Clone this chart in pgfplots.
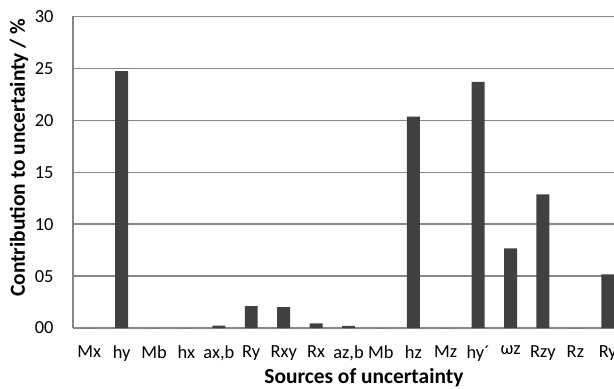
\documentclass[border=0pt]{standalone}
\usepackage{pgfplots}
\pgfplotsset{compat=1.18}
\usepackage{fontspec}
\setmainfont{Carlito}
\definecolor{barc}{HTML}{404040}
\definecolor{gridc}{HTML}{868686}
\begin{document}
\begin{tikzpicture}
\begin{axis}[
  scale only axis,
  width=551bp, height=311.5bp,
  xmin=-0.5, xmax=16.5,
  ymin=0, ymax=30,
  xtick={0,...,16},
  xticklabels={Mx,hy,Mb,hx,{ax,b},Ry,Rxy,Rx,{az,b},Mb,hz,Mz,hy´,ωz,Rzy,Rz,Ry},
  ytick={0,5,10,15,20,25,30},
  yticklabels={00,05,10,15,20,25,30},
  axis x line*=bottom, axis y line*=left,
  axis line style={gridc, line width=1.4bp},
  ymajorgrids, grid style={gridc, line width=1.4bp},
  major tick length=0pt,
  tick label style={font=\fontsize{18.5}{20}\selectfont},
  xticklabel style={yshift=-14bp},
  yticklabel style={xshift=-16bp},
  ylabel={Contribution to uncertainty / \%},
  xlabel={Sources of uncertainty},
  every axis y label/.style={at={(axis description cs:0,0.547)}, xshift=-54bp, rotate=90, anchor=center, font=\bfseries\fontsize{21.5}{24}\selectfont},
  every axis x label/.style={at={(axis description cs:0.528,0)}, anchor=center, yshift=-50bp, font=\bfseries\fontsize{21.5}{24}\selectfont},
  ybar, bar width=0.4,
  clip=false,
]
\addplot[fill=barc, draw=none] coordinates {
(0,0) (1,24.75) (2,0) (3,0) (4,0.22) (5,2.1) (6,2.0) (7,0.45) (8,0.2) (9,0) (10,20.35) (11,0) (12,23.7) (13,7.66) (14,12.86) (15,0) (16,5.16)
};
\coordinate (sw) at (rel axis cs:0,0);
\coordinate (ne) at (rel axis cs:1,1);
\end{axis}
\pgfresetboundingbox
\useasboundingbox ([xshift=-73bp,yshift=-61bp]sw) rectangle ([xshift=-10bp,yshift=16.5bp]ne);
\end{tikzpicture}
\end{document}
